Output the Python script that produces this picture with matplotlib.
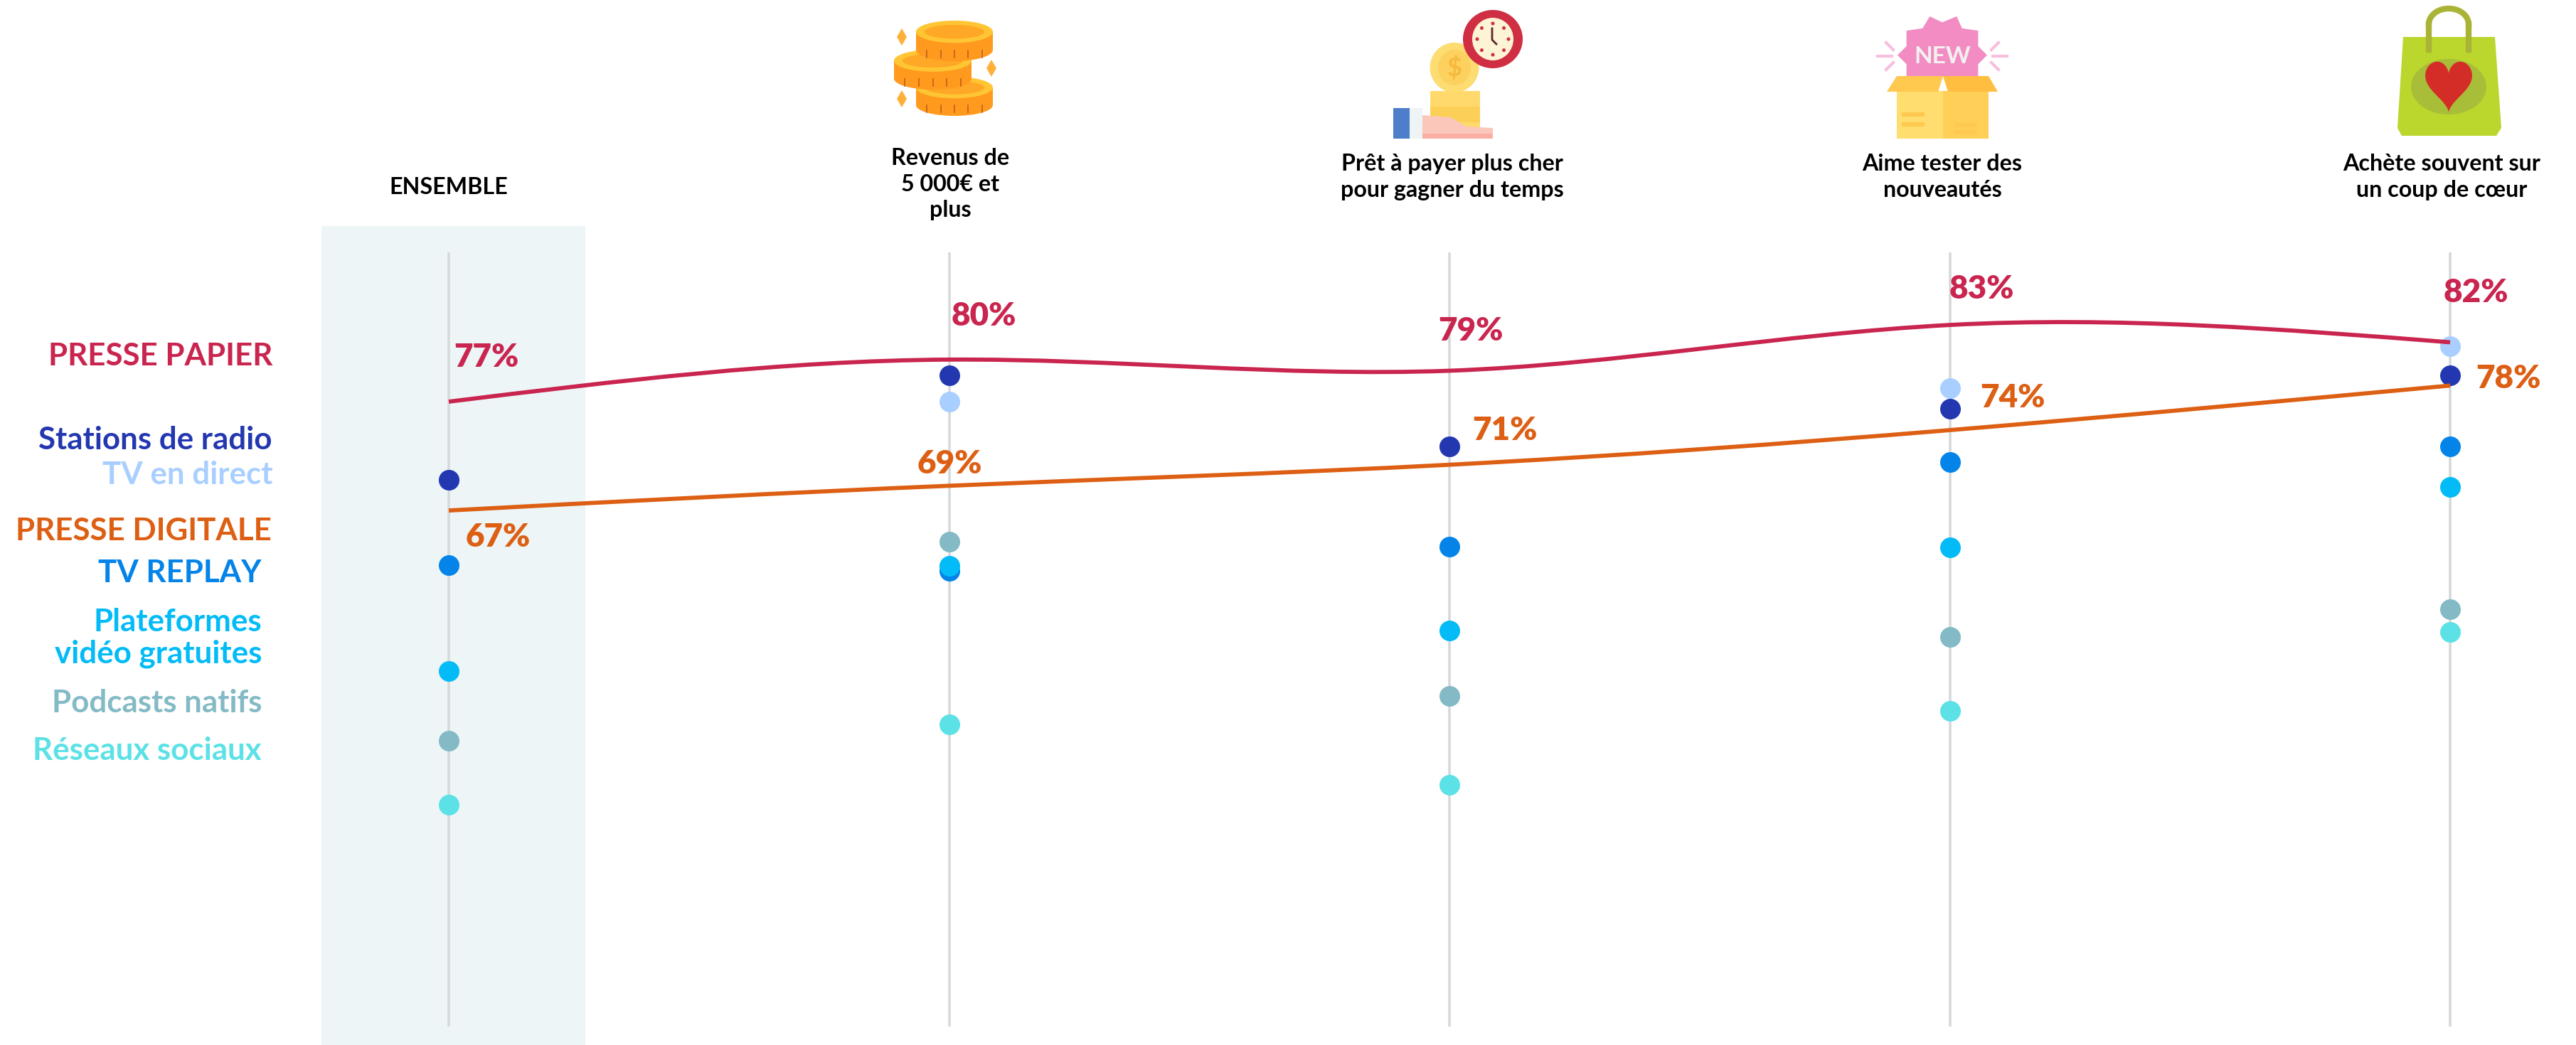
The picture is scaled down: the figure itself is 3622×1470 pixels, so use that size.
import numpy as np
import matplotlib
matplotlib.use("Agg")
import matplotlib.pyplot as plt
from matplotlib.path import Path
from matplotlib.patches import PathPatch, Ellipse, Rectangle, Polygon

W, H = 3622, 1470
plt.rcParams['font.family'] = ['Lato', 'DejaVu Sans']

columns = ["ENSEMBLE", "Revenus de\n5 000€ et\nplus", "Prêt à payer plus cher\npour gagner du temps",
           "Aime tester des\nnouveautés", "Achète souvent sur\nun coup de cœur"]
presse_papier = [77.0, 80.4, 79.5, 83.2, 81.8]
presse_digitale = [68.2, 70.2, 71.9, 74.7, 78.3]
labels_papier = ["77%", "80%", "79%", "83%", "82%"]
labels_digitale = ["67%", "69%", "71%", "74%", "78%"]
tv_direct = [70.7, 77.0, 73.4, 78.1, 81.5]
radio = [70.7, 79.1, 73.4, 76.4, 79.1]
tv_replay = [63.8, 63.3, 65.3, 72.1, 73.4]
plateformes = [55.2, 63.7, 58.5, 65.2, 70.1]
podcasts = [49.6, 65.7, 53.2, 58.0, 60.2]
reseaux = [44.4, 50.9, 46.0, 52.0, 58.4]

C_PAP, C_DIG = "#C9254F", "#DD5F13"
C_DIR, C_RAD, C_REP = "#A8CFFF", "#2337B0", "#0484E8"
C_PLA, C_POD, C_RES = "#02BBF7", "#83BAC5", "#5CE1E6"

fig = plt.figure(figsize=(W/100, H/100), dpi=100, facecolor="white")
px = fig.add_axes([0, 0, 1, 1], zorder=1)
px.set_xlim(0, W); px.set_ylim(H, 0); px.axis("off")
ax = fig.add_axes([0, 0, 1, 1], zorder=2)
ax.patch.set_alpha(0); ax.axis("off")
x0, dx = 631, 703.5
ax.set_xlim(-x0/dx, (W-x0)/dx)
k = 17.4
ax.set_ylim(77-(H-565)/k, 77+565/k)
txt = fig.add_axes([0, 0, 1, 1], zorder=3)
txt.set_xlim(0, W); txt.set_ylim(H, 0); txt.axis("off"); txt.patch.set_alpha(0)

px.add_patch(Rectangle((452, 318), 371, H-318, fc="#EDF5F7", ec="none"))
idx = np.arange(len(columns))
for i in idx:
    xp = x0 + i*dx
    px.plot([xp, xp], [355, 1444], color="#D6D9DA", lw=2.6, solid_capstyle="butt")

def spline_path(x, y):
    x = np.asarray(x, float); y = np.asarray(y, float)
    n = len(x); h = np.diff(x)
    A = np.zeros((n, n)); b = np.zeros(n)
    A[0, 0] = A[-1, -1] = 1
    for i in range(1, n-1):
        A[i, i-1] = h[i-1]; A[i, i] = 2*(h[i-1]+h[i]); A[i, i+1] = h[i]
        b[i] = 6*((y[i+1]-y[i])/h[i]-(y[i]-y[i-1])/h[i-1])
    M = np.linalg.solve(A, b)
    verts = [(x[0], y[0])]; codes = [Path.MOVETO]
    for i in range(n-1):
        d0 = (y[i+1]-y[i])/h[i]-h[i]*(2*M[i]+M[i+1])/6
        d1 = (y[i+1]-y[i])/h[i]+h[i]*(M[i]+2*M[i+1])/6
        verts += [(x[i]+h[i]/3, y[i]+d0*h[i]/3), (x[i+1]-h[i]/3, y[i+1]-d1*h[i]/3), (x[i+1], y[i+1])]
        codes += [Path.CURVE4]*3
    return Path(verts, codes)

for vals, col in [(tv_direct, C_DIR), (radio, C_RAD), (tv_replay, C_REP),
                  (plateformes, C_PLA), (podcasts, C_POD), (reseaux, C_RES)]:
    ax.scatter(idx, vals, s=(29*0.72)**2, color=col, linewidths=0, zorder=3)
for vals, col in [(presse_papier, C_PAP), (presse_digitale, C_DIG)]:
    ax.add_patch(PathPatch(spline_path(idx, vals), fc="none", ec=col, lw=4.2, capstyle="butt", zorder=4))

def T(x, y, s, c, ha="right", fs=31.6, w="bold", ls=1.2):
    txt.text(x, y, s, color=c, ha=ha, va="center", fontsize=fs, fontweight=w, linespacing=ls)

for x, y, s, c in [(383, 501, "PRESSE PAPIER", C_PAP), (383, 619, "Stations de radio", C_RAD),
                   (383, 668, "TV en direct", C_DIR), (382, 747, "PRESSE DIGITALE", C_DIG),
                   (368, 806, "TV REPLAY", C_REP), (368, 875, "Plateformes", C_PLA),
                   (368, 920, "vidéo gratuites", C_PLA), (368, 989, "Podcasts natifs", C_POD),
                   (368, 1056, "Réseaux sociaux", C_RES)]:
    T(x, y, s, c)

for (xc, yc), s in zip([(684, 502), (1383, 444), (2068, 465), (2786, 406), (3481, 411)], labels_papier):
    T(xc, yc, s, C_PAP, ha="center", fs=33, w="heavy")
for (xc, yc), s in zip([(700, 755), (1335, 652), (2116, 605), (2830, 559), (3527, 532)], labels_digitale):
    T(xc, yc, s, C_DIG, ha="center", fs=33, w="heavy")

for (xc, yc), s in zip([(631, 263), (1336, 259), (2042, 249), (2731, 249), (3433, 249)], columns):
    T(xc, yc, s, "black", ha="center", fs=23.2, w="bold", ls=1.33)

# --- icons ---
def E(cx, cy, w, h, c, z=1):
    px.add_patch(Ellipse((cx, cy), w, h, fc=c, ec="none", zorder=z))
def R(x, y, w, h, c, z=1):
    px.add_patch(Rectangle((x, y), w, h, fc=c, ec="none", zorder=z))
def P(pts, c, z=1):
    px.add_patch(Polygon(pts, closed=True, fc=c, ec="none", zorder=z))

def coin(x1, x2, y1, y2, z):
    cx, w = (x1+x2)/2, x2-x1
    top_h = 0.55*(y2-y1)
    E(cx, y2-top_h/2, w, top_h, "#FF9A1F", z)
    R(x1, y1+top_h/2, w, y2-y1-top_h, "#FF9A1F", z)
    E(cx, y1+top_h/2, w, top_h, "#FFC533", z)
    E(cx, y1+top_h/2, w*0.78, top_h*0.62, "#FFA726", z)
    for f in (-.36, -.18, 0, .18, .36):
        px.plot([cx+f*w]*2, [y2-15, y2-5], color="#C0601A", lw=1.2, zorder=z)
coin(1288, 1396, 108, 163, 5)
coin(1257, 1366, 70, 126, 6)
coin(1288, 1396, 29, 86, 7)
for sx, sy in [(1268, 52), (1394, 96), (1268, 139)]:
    P([(sx-7, sy), (sx, sy-12), (sx+7, sy), (sx, sy+12)], "#FFB03A", 7)

E(2045, 95, 69, 70, "#FDDC72", 2); E(2045, 95, 46, 50, "#FCD15E", 2)
px.text(2045, 95, "$", color="#F7B93E", fontsize=26, fontweight="bold", ha="center", va="center", zorder=3)
for yy, c in [(128, "#FFD96B"), (150, "#FCCF57"), (172, "#FFD96B")]:
    R(2011, yy, 70, 23, c, 2)
E(2099, 55, 84, 82, "#CF2E43", 4); E(2099, 55, 58, 60, "#FDF3D5", 4)
for a in np.deg2rad(np.arange(0, 360, 45)):
    E(2099+22*np.cos(a), 55+22*np.sin(a), 5, 5, "#CF2E43", 5)
px.plot([2098, 2098, 2104], [40, 56, 62], color="#5A2A2A", lw=2, zorder=5)
R(1959, 152, 23, 43, "#4D7EC9", 3); R(1982, 152, 18, 43, "#EEF3F5", 3)
P([(2000, 162), (2040, 165), (2062, 178), (2099, 180), (2099, 195), (2000, 195)], "#FBC7BB", 3)
R(2000, 188, 99, 7, "#FBAFA3", 3)

star = [(2668+126*a, 23+84*b) for a, b in [(.36, 0), (.5, .1), (.66, 0), (.72, .2), (.9, .24), (.9, .5), (1, .65),
                                           (.9, .8), (.9, 1), (.1, 1), (.1, .8), (0, .65), (.1, .5), (.1, .24), (.28, .2)]]
P(star, "#F28CC3", 2)
txt.text(2731, 79, "NEW", color="#F3F0F0", fontsize=24, fontweight="bold", ha="center", va="center")
R(2667, 128, 65, 67, "#FFDD6E", 3); R(2732, 128, 64, 67, "#FFCF58", 3)
P([(2667, 107), (2732, 107), (2725, 129), (2653, 129)], "#FFC84E", 4)
P([(2732, 107), (2796, 107), (2809, 129), (2739, 129)], "#FFBE3F", 4)
for xx, yy, w in [(2674, 158, 32), (2674, 172, 32), (2748, 173, 32), (2748, 183, 32)]:
    R(xx, yy, w, 6, "#FFC84E", 5)
for xa, ya, xb, yb in [(2640, 79, 2660, 79), (2802, 79, 2822, 79), (2652, 60, 2662, 70), (2810, 60, 2800, 70),
                       (2652, 98, 2662, 88), (2810, 98, 2800, 88)]:
    px.plot([xa, xb], [ya, yb], color="#F6BFDD", lw=3, zorder=2)

th = np.linspace(np.pi, 0, 30)
px.plot(3443+28*np.cos(th), 34-22*np.sin(th), color="#A9B436", lw=6, zorder=3)
px.plot([3415, 3415], [34, 70], color="#A9B436", lw=6, zorder=6)
px.plot([3471, 3471], [34, 70], color="#A9B436", lw=6, zorder=6)
P([(3379, 52), (3508, 52), (3517, 180), (3510, 191), (3377, 191), (3371, 180)], "#BBD62C", 4)
E(3443, 122, 106, 78, "#A9BE38", 5)
t = np.linspace(0, 2*np.pi, 80)
hx = 16*np.sin(t)**3; hy = 13*np.cos(t)-5*np.cos(2*t)-2*np.cos(3*t)-np.cos(4*t)
px.fill(3443+hx*33/16, 116-hy*32/13, color="#D42D28", zorder=6, lw=0)

fig.savefig("out.png", dpi=100)
